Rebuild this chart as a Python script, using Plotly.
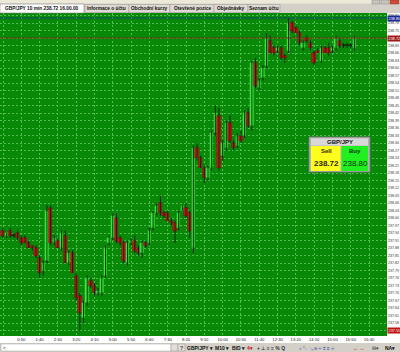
import plotly.graph_objects as go
import pandas as pd

# ---------------- data ----------------
symbol = "GBP/JPY"
session_start = "2007-06-20 00:00:00"
times = pd.date_range(session_start, periods=97, freq="10min")

opens = [237.95, 237.93, 237.95, 237.93, 237.94, 237.92, 237.92, 237.90, 237.89, 237.88,
         237.84, 237.79, 237.83, 238.04, 237.90, 237.91, 237.88, 237.93, 237.82, 237.86,
         237.77, 237.69, 237.60, 237.66, 237.75, 237.73, 237.70, 237.70, 237.77, 237.90,
         237.92, 238.00, 237.92, 237.90, 237.82, 237.90, 237.91, 237.88, 237.86, 237.90,
         237.90, 237.96, 238.02, 238.06, 238.02, 238.02, 237.99, 237.98, 237.96, 238.03,
         238.04, 238.02, 237.88, 238.28, 238.24, 238.20, 238.16, 238.20, 238.34, 238.41,
         238.25, 238.28, 238.38, 238.30, 238.29, 238.33, 238.33, 238.42, 238.37, 238.62,
         238.52, 238.56, 238.61, 238.71, 238.68, 238.67, 238.68, 238.65, 238.67, 238.78,
         238.76, 238.74, 238.68, 238.72, 238.70, 238.66, 238.67, 238.63, 238.68, 238.68,
         238.67, 238.68, 238.71, 238.69, 238.69, 238.69, 238.68]
highs = [237.96, 237.94, 237.96, 237.94, 237.95, 237.93, 237.93, 237.91, 237.89, 237.89,
         237.85, 237.83, 238.05, 238.05, 237.93, 237.92, 237.95, 237.95, 237.87, 237.87,
         237.78, 237.70, 237.67, 237.77, 237.76, 237.74, 237.72, 237.77, 237.89, 237.93,
         238.02, 238.02, 237.93, 237.91, 237.91, 237.92, 237.93, 237.89, 237.91, 237.91,
         237.96, 238.03, 238.06, 238.09, 238.03, 238.03, 238.00, 237.99, 238.03, 238.05,
         238.06, 238.03, 238.29, 238.30, 238.25, 238.21, 238.21, 238.35, 238.45, 238.44,
         238.31, 238.39, 238.41, 238.31, 238.34, 238.35, 238.43, 238.44, 238.63, 238.64,
         238.56, 238.61, 238.74, 238.73, 238.69, 238.69, 238.69, 238.66, 238.80, 238.79,
         238.77, 238.75, 238.71, 238.73, 238.71, 238.67, 238.68, 238.69, 238.69, 238.70,
         238.69, 238.73, 238.72, 238.70, 238.70, 238.70, 238.73]
lows = [237.92, 237.92, 237.92, 237.92, 237.91, 237.89, 237.90, 237.88, 237.87, 237.84,
        237.76, 237.77, 237.82, 237.89, 237.89, 237.88, 237.87, 237.82, 237.81, 237.78,
        237.67, 237.55, 237.58, 237.65, 237.72, 237.69, 237.69, 237.69, 237.76, 237.89,
        237.91, 237.90, 237.89, 237.82, 237.81, 237.89, 237.86, 237.85, 237.84, 237.88,
        237.89, 237.95, 238.01, 238.01, 238.00, 237.99, 237.97, 237.90, 237.95, 238.03,
        238.00, 237.92, 237.86, 238.23, 238.20, 238.14, 238.15, 238.19, 238.33, 238.19,
        238.23, 238.27, 238.30, 238.27, 238.28, 238.30, 238.32, 238.36, 238.35, 238.52,
        238.51, 238.55, 238.60, 238.66, 238.65, 238.66, 238.63, 238.62, 238.66, 238.74,
        238.74, 238.69, 238.67, 238.70, 238.67, 238.61, 238.66, 238.62, 238.66, 238.65,
        238.66, 238.67, 238.68, 238.68, 238.68, 238.68, 238.67]
closes = [237.93, 237.94, 237.93, 237.93, 237.92, 237.90, 237.90, 237.88, 237.88, 237.85,
          237.78, 237.82, 238.03, 237.90, 237.92, 237.88, 237.94, 237.82, 237.86, 237.78,
          237.68, 237.62, 237.66, 237.76, 237.73, 237.70, 237.71, 237.76, 237.88, 237.92,
          238.01, 237.91, 237.90, 237.83, 237.90, 237.91, 237.87, 237.86, 237.90, 237.89,
          237.95, 238.02, 238.05, 238.02, 238.01, 237.99, 237.98, 237.95, 238.02, 238.05,
          238.01, 237.95, 238.28, 238.24, 238.20, 238.16, 238.20, 238.34, 238.42, 238.20,
          238.30, 238.38, 238.31, 238.28, 238.33, 238.31, 238.42, 238.37, 238.62, 238.53,
          238.55, 238.60, 238.72, 238.66, 238.66, 238.68, 238.64, 238.64, 238.78, 238.75,
          238.74, 238.70, 238.70, 238.71, 238.68, 238.62, 238.66, 238.68, 238.66, 238.66,
          238.68, 238.72, 238.69, 238.69, 238.69, 238.69, 238.72]

sell_price = 238.72
buy_price = 238.80
low_tag_price = 237.55
tabs = ["GBP/JPY 10 min 238.72 16.00.00", "Informace o účtu", "Obchodní kurzy",
        "Otevřené pozice", "Objednávky", "Seznam účtu"]
toolbar_items = ["GBP/JPY ▾", "M10 ▾", "BID ▾"]

# ---------------- styling ----------------
W, H = 400, 352
ML, MR, MT, MB = 0, 13, 13, 16
PW, PH = W - ML - MR, H - MT - MB
FONT = "Liberation Sans"
BG = "#078807"
GRID = "#4fbd4f"
UP = "#3cf53c"
DOWN = "#d01616"
WICK = "#0e260e"


def px(x):
    return (x - ML) / PW


def py(y):
    return (H - MB - y) / PH


shapes = []
annotations = []


def rect(x0, y0, x1, y1, fill, line=None, lw=1):
    shapes.append(dict(type="rect", xref="paper", yref="paper",
                       x0=px(x0), x1=px(x1), y0=py(y1), y1=py(y0),
                       fillcolor=fill, line=dict(color=line or fill, width=lw if line else 0),
                       layer="above"))


def text(x, y, s, size=5, color="#000", bold=False, xanchor="center", bg=None):
    annotations.append(dict(xref="paper", yref="paper", x=px(x), y=py(y), text=("<b>%s</b>" % s) if bold else s,
                            showarrow=False, xanchor=xanchor, yanchor="middle",
                            font=dict(family=FONT, size=size, color=color),
                            bgcolor=bg, borderpad=0))


fig = go.Figure()

# wicks
wx, wy = [], []
for t, h, l in zip(times, highs, lows):
    wx += [t, t, None]
    wy += [l, h, None]
fig.add_trace(go.Scatter(x=wx, y=wy, mode="lines", line=dict(color=WICK, width=1),
                         hoverinfo="skip"))

# bodies
base = [min(o, c) for o, c in zip(opens, closes)]
height = [max(abs(c - o), 0.003) for o, c in zip(opens, closes)]
colors = [UP if c > o else (DOWN if c < o else WICK) for o, c in zip(opens, closes)]
line_colors = ["#1f9a1f" if c > o else ("#7a0c0c" if c < o else WICK) for o, c in zip(opens, closes)]
fig.add_trace(go.Bar(x=times, y=height, base=base, width=560000,
                     marker=dict(color=colors, line=dict(width=0.5, color=line_colors))))

# price lines
t0 = pd.Timestamp(session_start)
x_range = [t0 - pd.Timedelta(minutes=8.2), t0 + pd.Timedelta(minutes=1049)]
shapes.append(dict(type="line", xref="paper", yref="y", x0=0, x1=1, y0=buy_price, y1=buy_price,
                   line=dict(color="#0f4a66", width=1)))
shapes.append(dict(type="line", xref="paper", yref="y", x0=0, x1=1, y0=sell_price, y1=sell_price,
                   line=dict(color="#6a3a14", width=1)))

# axis price tags
for price, col in [(buy_price, "#1c2a96"), (sell_price, "#a01818"), (low_tag_price, "#c01010")]:
    annotations.append(dict(xref="paper", yref="y", x=1.0, y=price, text="%.2f" % price,
                            showarrow=False, xanchor="left", yanchor="middle",
                            font=dict(family=FONT, size=3.8, color="white"),
                            bgcolor=col, borderpad=0.6))

# top title strip + tabs
rect(0, 0, 400, 13, "#d4d0c8")
rect(0, 0, 400, 3.5, "#ece9d8")
rect(372, 0, 380, 4, "#c8c4bc", "#8a8a8a", 0.5)
rect(381, 0, 389, 4, "#c8c4bc", "#8a8a8a", 0.5)
rect(390, 0, 399, 4, "#d04a3a", "#8a3a2a", 0.5)
tab_bounds = [(0, 84), (85, 129), (129, 170), (170, 214), (214, 248), (248, 280)]
for i, (s, (a, b)) in enumerate(zip(tabs, tab_bounds)):
    if i == 0:
        rect(a, 4, b, 13, "#ffffff", "#808080", 0.6)
    else:
        rect(a, 4.5, b, 12.5, "#dedad2", "#909090", 0.5)
    text((a + b) / 2, 8.6, s, size=4.8, color="#101010", bold=True)

# info box
rect(309, 137, 370, 172, "#b4b4b4", "#7a7a7a", 0.8)
rect(311, 138.5, 368, 145.5, "#d8d8d8")
rect(311, 146, 340.5, 171, "#ffff1e")
rect(341.5, 146, 368, 171, "#20f020")
text(339.5, 142, symbol, size=6, color="#101010", bold=True)
text(326, 150.5, "Sell", size=6, color="#302800", bold=True)
text(326, 163, "%.2f" % sell_price, size=8, color="#2a2400", bold=True)
text(355, 150.5, "Buy", size=6, color="#083008", bold=True)
text(355, 163, "%.2f" % buy_price, size=8, color="#083008")

# bottom toolbar
rect(0, 343, 400, 352, "#d4d0c8")
rect(1, 344, 171, 351, "#ffffff", "#a0a0a0", 0.5)
rect(171, 344, 178, 351, "#e4e0d8", "#909090", 0.5)
rect(178, 344, 185, 351, "#e4e0d8", "#909090", 0.5)
text(4, 347.5, "&lt;", size=5, color="#303030")
text(181.5, 347.5, "?", size=5, color="#303030", bold=True)
for s, x in zip(toolbar_items, [200, 222, 238.5]):
    text(x, 347.5, s, size=5, color="#101010", bold=True)
text(250, 347.5, "4▾", size=5, color="#c02020", bold=True)
text(271, 347.5, "+ ⊥ ≡ ≡ % Q", size=5, color="#303030", bold=True)
text(317, 347.5, "⌕ ↖ ↘ ⊞ ÷ ± ≡ ⊕", size=5, color="#3040a0")
text(358, 347.5, "↔ ↔", size=5, color="#c02020", bold=True)
text(375, 347.5, "⊟▾", size=5, color="#303030")
text(390, 347.5, "NA▾", size=5, color="#101010", bold=True)

fig.update_layout(
    width=W, height=H,
    margin=dict(l=ML, r=MR, t=MT, b=MB, pad=0),
    paper_bgcolor="white", plot_bgcolor=BG,
    showlegend=False, bargap=0,
    shapes=shapes, annotations=annotations,
    xaxis=dict(type="date", range=x_range, tick0=session_start, dtick=3000000,
               tickformat="%-H:%M", tickfont=dict(family=FONT, size=4.2, color="#202020"),
               showgrid=True, gridcolor=GRID, griddash="2px,2px", gridwidth=1,
               zeroline=False, showline=False, ticks="", automargin=False, fixedrange=True),
    yaxis=dict(side="right", range=[237.528, 238.82], tick0=238.72, dtick=0.03,
               tickformat=".2f", tickfont=dict(family=FONT, size=3.6, color="#303030"),
               showgrid=True, gridcolor=GRID, griddash="2px,2px", gridwidth=1,
               zeroline=False, showline=False, ticks="", automargin=False, fixedrange=True),
)

fig.write_html("out.html", config={"displayModeBar": False})
